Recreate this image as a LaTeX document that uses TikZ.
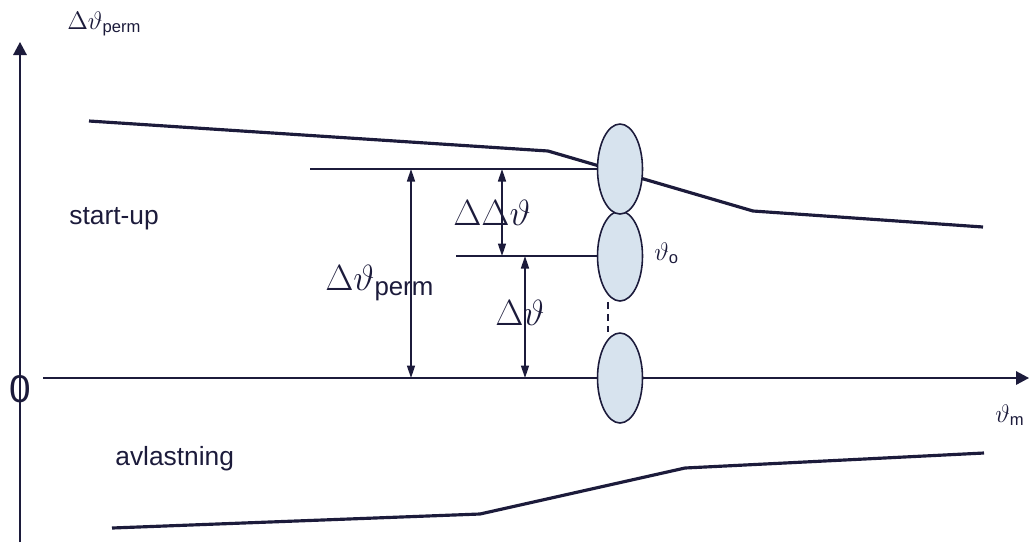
\documentclass[tikz,border=0pt]{standalone}
\usepackage{fontspec}
\setmainfont{Liberation Sans}
\usepackage{tikz}
\usetikzlibrary{arrows.meta,calc,shapes.geometric}
\definecolor{DiaNavy}{HTML}{1C1B3B}
\definecolor{DiaFill}{HTML}{D7E3EE}

\begin{document}
\begin{tikzpicture}[
  x=0.02cm,y=-0.02cm,
  axis/.style={draw=DiaNavy,line width=0.9pt,-{Triangle[length=2.6mm,width=2.7mm]}},
  curve/.style={draw=DiaNavy,line width=1.8pt,line join=miter},
  level/.style={draw=DiaNavy,line width=0.9pt},
  dim/.style={draw=DiaNavy,line width=0.9pt,{Triangle[length=2.5mm,width=1.6mm]}-{Triangle[length=2.5mm,width=1.6mm]}},
  bub/.style={ellipse,draw=DiaNavy,line width=0.9pt,fill=DiaFill,minimum width=0.9cm,minimum height=1.8cm,inner sep=0pt},
  txt/.style={font=\fontsize{15}{17}\selectfont,text=DiaNavy,inner sep=0pt,anchor=base west},
  big/.style={font=\fontsize{21}{23}\selectfont,text=DiaNavy,inner sep=0pt,anchor=base west},
  sml/.style={font=\fontsize{13.5}{15}\selectfont,text=DiaNavy,inner sep=0pt,anchor=base west}
]
\useasboundingbox (0,0) rectangle (1030,542);

% axes
\coordinate (ybot) at (20,542);
\coordinate (ytop) at (20,42);
\coordinate (xleft) at (43,378);
\coordinate (xright) at (1029,378);
\draw[axis] (ybot) -- (ytop);
\draw[axis] (xleft) -- (xright);

% start-up and avlastning curves
\coordinate (su1) at (89,121);
\coordinate (su2) at (548,151);
\coordinate (su3) at (753,211);
\coordinate (su4) at (983,227);
\coordinate (av1) at (112,528);
\coordinate (av2) at (480,514);
\coordinate (av3) at (685,468);
\coordinate (av4) at (984,453);
\draw[curve] (su1) -- (su2) -- (su3) -- (su4);
\draw[curve] (av1) -- (av2) -- (av3) -- (av4);

% operating points
\node[bub] (low) at (620,378) {};
\node[bub] (mid) at (620,256) {};
\node[bub] (top) at (620,169) {};
\draw[level,dash pattern=on 4pt off 3pt] ($(mid.south)+(-12,0)$) -- ($(low.north)+(-12,0)$);

% levels and dimensions
\coordinate (lvtop) at (310,169);
\coordinate (lvmid) at (456,256);
\draw[level] (lvtop) -- (top.west);
\draw[level] (lvmid) -- (mid.west);
\coordinate (pa) at (411,169);
\coordinate (pb) at (411,378);
\coordinate (da) at (502,169);
\coordinate (db) at (502,256);
\coordinate (ea) at (525,256);
\coordinate (eb) at (525,378);
\draw[dim] (pa) -- (pb);
\draw[dim] (da) -- (db);
\draw[dim] (ea) -- (eb);

% labels
\node[sml] (ylab) at (67,29) {$\Delta\vartheta$\textsubscript{perm}};
\node[sml] (xlab) at (995,422) {$\vartheta$\textsubscript{m}};
\node[font=\fontsize{22}{24}\selectfont,text=DiaNavy,inner sep=0pt,anchor=base west] (zero) at (9,402) {0};
\node[txt] (startup) at (69,224) {start-up};
\node[txt] (avl) at (115,465) {avlastning};
\node[big] (ddlab) at (453,225) {$\Delta\Delta\vartheta$};
\node[big] (permlab) at (325,290) {$\Delta\vartheta$\textsubscript{perm}};
\node[big] (dlab) at (495,325) {$\Delta\vartheta$};
\node[sml] (olab) at (654,260) {$\vartheta$\textsubscript{o}};
\end{tikzpicture}
\end{document}
